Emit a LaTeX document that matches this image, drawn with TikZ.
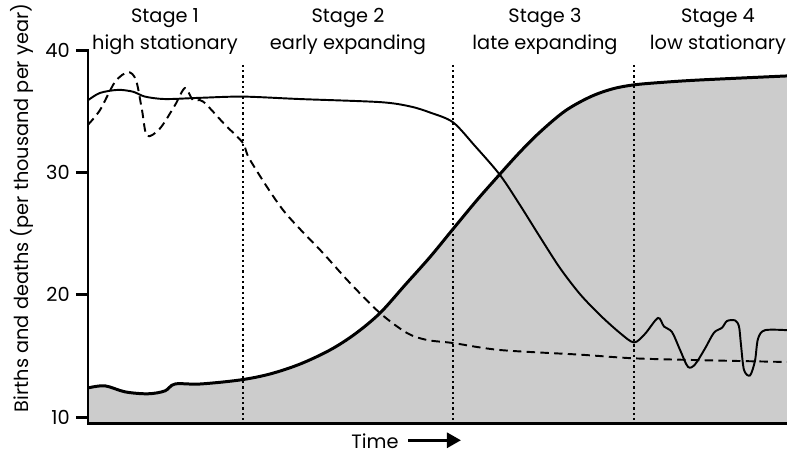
\documentclass[tikz,border=0pt]{standalone}
\usepackage{fontspec}
\setmainfont{Poppins}
\usetikzlibrary{arrows.meta}
\definecolor{popgray}{RGB}{204,204,204}

\begin{document}
\begin{tikzpicture}[x=0.2cm, y=0.2446cm,
    font=\fontsize{11}{15.4}\selectfont,
    axisline/.style={line width=1.7pt},
    births/.style={line width=1.1pt},
    deaths/.style={line width=1.1pt, dash pattern=on 4.8pt off 3pt},
    popcurve/.style={line width=1.7pt},
    stageline/.style={line width=1.4pt, dash pattern=on 1.3pt off 1.7pt},
    stagelabel/.style={align=center, inner sep=0pt}]
    \useasboundingbox (-8.8,6.73) rectangle (69.9,44.1);

    % Shaded population
    \fill[popgray] (0,9.5) -- plot[smooth, tension=0.55] coordinates {(0,12.38) (1.7,12.55) (3.7,12.06) (6.0,11.9) (7.7,12.14) (8.7,12.7) (11.2,12.7) (15.2,13.03) (18.2,13.52) (21.2,14.33) (24.2,15.48) (26.7,16.79) (29.2,18.5) (31.7,20.79) (34.2,23.08) (36.5,25.37) (38.9,27.74) (41.2,29.87) (43.2,31.67) (45.2,33.3) (47.7,35.02) (50.2,36.17) (52.4,36.82) (54.5,37.15) (57.2,37.35) (61.2,37.56) (69.9,37.89)} -- (69.9,9.5) -- cycle;

    % Stage boundaries
    \foreach \t in {15.5,36.5,54.6}
        \draw[stageline] (\t,38.8) -- (\t,9.5);

    % Curves
    \draw[popcurve] plot[smooth, tension=0.55] coordinates {(0,12.38) (1.7,12.55) (3.7,12.06) (6.0,11.9) (7.7,12.14) (8.7,12.7) (11.2,12.7) (15.2,13.03) (18.2,13.52) (21.2,14.33) (24.2,15.48) (26.7,16.79) (29.2,18.5) (31.7,20.79) (34.2,23.08) (36.5,25.37) (38.9,27.74) (41.2,29.87) (43.2,31.67) (45.2,33.3) (47.7,35.02) (50.2,36.17) (52.4,36.82) (54.5,37.15) (57.2,37.35) (61.2,37.56) (69.9,37.89)};
    \draw[births] plot[smooth, tension=0.5] coordinates {(0,35.9) (1.2,36.5) (3.0,36.75) (4.5,36.6) (5.7,36.2) (7.7,36.0) (11.2,36.1) (15.5,36.2) (21.2,36.0) (29.2,35.75) (32.2,35.4) (34.2,34.9) (36.5,34.1) (38.7,32.16) (41.2,29.79) (43.2,27.33) (45.2,24.72) (47.2,22.18) (49.2,20.05) (51.2,18.34) (53.2,16.87) (54.6,16.1) (55.7,16.8) (57.0,18.1) (57.6,17.4) (58.4,16.95) (59.2,15.5) (60.0,14.1) (60.7,14.3) (61.7,15.6) (62.6,16.9) (63.4,17.3) (63.9,17.85) (64.7,17.9) (65.1,17.4) (65.3,15.9) (65.6,13.85) (66.2,13.4) (66.7,14.6) (67.0,16.4) (67.7,17.1) (69.9,17.1)};
    \draw[deaths] plot[smooth, tension=0.5] coordinates {(0,33.9) (1.2,35.1) (2.7,37.4) (4.0,38.2) (4.8,37.55) (5.4,35.1) (5.9,33.0) (7.2,33.6) (8.7,35.5) (9.7,36.9) (10.5,35.9) (11.5,35.8) (13.7,33.9) (15.5,32.4) (16.2,31.03) (19.5,26.93) (23.5,23.41) (26.2,20.96) (29.2,18.5) (31.9,16.87) (33.9,16.3) (36.5,16.05) (41.2,15.48) (49.2,15.1) (54.6,14.8) (61.2,14.65) (69.9,14.5)};

    % Axes
    \draw[axisline] (-1.2,40) -- (0,40) -- (0,9.5) -- (69.9,9.5);
    \foreach \v in {10,20,30}
        \draw[axisline] (-1.2,\v) -- (0,\v);
    \foreach \v in {10,20,30,40}
        \node[anchor=east, inner sep=0pt] (tick\v) at (-1.8,\v) {\v};

    % Labels
    \node[rotate=90, inner sep=0pt] (ylabel) at (-6.6,27.1) {Births and deaths (per thousand per year)};
    \node[inner sep=0pt] (time) at (28.7,8.0) {Time};
    \coordinate (tstart) at (32.0,8.1);
    \coordinate (tend) at (37.3,8.1);
    \draw[line width=1.8pt, -{Triangle[length=8pt, width=8.5pt]}] (tstart) -- (tend);

    % Stages
    \node[stagelabel] (stage1) at (7.7,41.5) {Stage 1\\high stationary};
    \node[stagelabel] (stage2) at (26.0,41.5) {Stage 2\\early expanding};
    \node[stagelabel] (stage3) at (45.7,41.5) {Stage 3\\late expanding};
    \node[stagelabel] (stage4) at (63.0,41.5) {Stage 4\\low stationary};
\end{tikzpicture}
\end{document}
